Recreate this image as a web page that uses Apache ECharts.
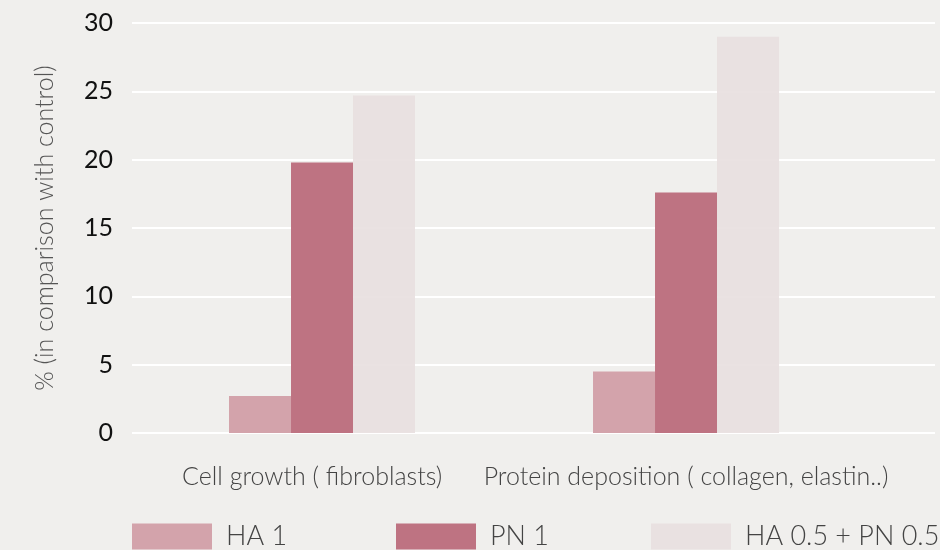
<!DOCTYPE html>
<html>
<head>
<meta charset="utf-8">
<script src="https://cdn.jsdelivr.net/npm/echarts@6/dist/echarts.min.js"></script>
<style>
    html, body { margin: 0; padding: 0; background: #f0efed; }
    #chart { width: 940px; height: 550px; }
</style>
</head>
<body>
<div id="chart"></div>
<script>
    // data
    var categories = ['Cell growth ( fibroblasts)', 'Protein deposition ( collagen, elastin..)'];
    var seriesNames = ['HA 1', 'PN 1', 'HA 0.5 + PN 0.5'];
    var ha1 = [2.7, 4.5];
    var pn1 = [19.8, 17.6];
    var haPn = [24.7, 29.0];
    var colors = ['#d3a3ab', '#be7382', '#e8dfdf'];

    function toPoints(arr) {
        return arr.map(function (v, i) { return [i, v]; });
    }

    var chart = echarts.init(document.getElementById('chart'));
    var textFont = 'Lato, "Open Sans", sans-serif';

    chart.setOption({
        backgroundColor: '#f0efed',
        textStyle: { fontFamily: textFont },
        grid: { left: 132, right: 5, top: 23, bottom: 117 },
        legend: [
            { data: [seriesNames[0]], left: 132 },
            { data: [seriesNames[1]], left: 396 },
            { data: [seriesNames[2]], left: 651 }
        ].map(function (l) {
            return Object.assign(l, {
                top: 523,
                padding: 0,
                itemWidth: 80,
                itemHeight: 26,
                itemGap: 0,
                icon: 'rect',
                textStyle: { fontSize: 27, color: '#444', fontWeight: 300, padding: [0, 0, 0, 9] }
            });
        }),
        xAxis: {
            type: 'value',
            min: -0.522,
            max: 1.684,
            axisLine: { show: false },
            axisTick: { show: false },
            splitLine: { show: false },
            axisLabel: {
                // first label sits a little left of its bar group in the original
                customValues: [-0.027, 1],
                formatter: function (v) { return categories[Math.round(v)] || ''; },
                fontSize: 25,
                color: '#444',
                fontWeight: 300,
                margin: 31
            }
        },
        yAxis: {
            type: 'value',
            min: 0,
            max: 30,
            interval: 5,
            name: '% (in comparison with control)',
            nameLocation: 'middle',
            nameGap: 75,
            nameTextStyle: { fontSize: 25, color: '#555', fontWeight: 300 },
            axisLine: { show: false },
            axisTick: { show: false },
            axisLabel: { fontSize: 25, color: '#111', margin: 19 },
            splitLine: { lineStyle: { color: '#ffffff', width: 2 } }
        },
        series: [
            { name: seriesNames[0], type: 'bar', data: toPoints(ha1), barWidth: 62, barGap: '0%', itemStyle: { color: colors[0] } },
            { name: seriesNames[1], type: 'bar', data: toPoints(pn1), barWidth: 62, barGap: '0%', itemStyle: { color: colors[1] } },
            { name: seriesNames[2], type: 'bar', data: toPoints(haPn), barWidth: 62, barGap: '0%', itemStyle: { color: colors[2], opacity: 0.9 } }
        ]
    });
</script>
</body>
</html>
